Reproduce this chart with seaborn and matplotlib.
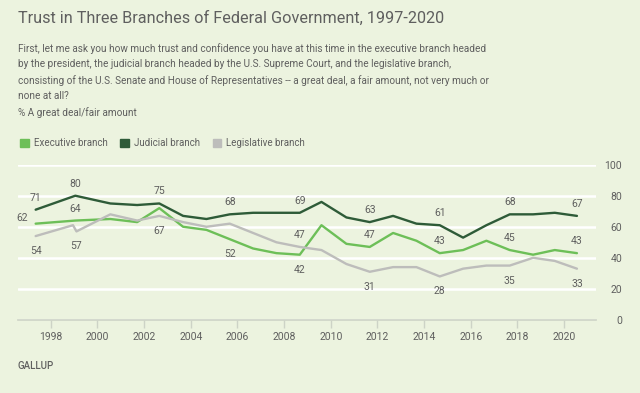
import matplotlib
matplotlib.use("Agg")
import matplotlib.pyplot as plt
import seaborn as sns
from matplotlib.patches import Patch

# poll dates (fractional years) and % great deal / fair amount
dates = [1997.35, 1999.05, 2000.55, 2001.7, 2002.65, 2003.67, 2004.67, 2005.67,
         2006.67, 2007.67, 2008.67, 2009.6, 2010.67, 2011.67, 2012.67, 2013.67,
         2014.67, 2015.67, 2016.67, 2017.67, 2018.67, 2019.6, 2020.55]
executive = [62, 64, 65, 63, 72, 60, 58, 52, 46, 43, 42, 61, 49, 47, 56, 51,
             43, 45, 51, 45, 42, 45, 43]
judicial = [71, 80, 75, 74, 75, 67, 65, 68, 69, 69, 69, 76, 66, 63, 67, 62,
            61, 53, 61, 68, 68, 69, 67]

leg_dates = [1997.35, 1998.95, 1999.1, 2000.55, 2001.7, 2002.65, 2003.67, 2004.67,
             2005.67, 2006.67, 2007.67, 2008.67, 2009.6, 2010.67, 2011.67, 2012.67,
             2013.67, 2014.67, 2015.67, 2016.67, 2017.67, 2018.67, 2019.6, 2020.55]
legislative = [54, 61, 57, 68, 64, 67, 63, 60, 62, 56, 50, 47, 45, 36, 31, 34,
               34, 28, 33, 35, 35, 40, 38, 33]

year_ticks = list(range(1998, 2021, 2))
value_ticks = [0, 20, 40, 60, 80, 100]

title = "Trust in Three Branches of Federal Government, 1997-2020"
question = ("First, let me ask you how much trust and confidence you have at this time in the executive branch headed\n"
            "by the president, the judicial branch headed by the U.S. Supreme Court, and the legislative branch,\n"
            "consisting of the U.S. Senate and House of Representatives -- a great deal, a fair amount, not very much or\n"
            "none at all?")

bg = "#ecf3df"
c_exec = "#6dbf58"
c_jud = "#2e5b38"
c_leg = "#bdbdbb"
txt = "#5f5f5f"

sns.set_theme(style="white")
plt.rcParams['font.family'] = ['Roboto', 'DejaVu Sans']

fig = plt.figure(figsize=(6.4, 3.93), dpi=100, facecolor=bg)
ax = fig.add_axes([0.028, 0.186, 0.903, 0.395], facecolor=bg)

series = [
    (dates, executive, c_exec, {0: 'left', 1: 'up', 7: 'down', 10: 'down', 13: 'up', 16: 'up', 19: 'up', 22: 'up'}),
    (dates, judicial, c_jud, {0: 'up', 1: 'up', 4: 'up', 7: 'up', 10: 'up', 13: 'up', 16: 'up', 19: 'up', 22: 'up'}),
    (leg_dates, legislative, c_leg, {0: 'down', 2: 'down', 5: 'down', 11: 'up', 14: 'down', 17: 'down', 20: 'down', 23: 'down'}),
]
offsets = {'up': (0, 12), 'down': (0, -15), 'left': (-14, 6)}

for xs, ys, col, labels in series:
    sns.lineplot(x=xs, y=ys, color=col, linewidth=1.7, ax=ax, zorder=3)
    for i, where in labels.items():
        ax.annotate(str(ys[i]), (xs[i], ys[i]), textcoords='offset pixels',
                    xytext=offsets[where], ha='center', va='center',
                    fontsize=7.5, color=txt, zorder=4)

ax.set_xlim(1996.59, 2021.36)
ax.set_ylim(0, 100)
ax.set_xticks(year_ticks)
ax.set_yticks(value_ticks)
ax.yaxis.grid(True, color='white', linewidth=1.8)
ax.set_axisbelow(True)
for s in ['left', 'right', 'top']:
    ax.spines[s].set_visible(False)
ax.spines['bottom'].set_color('#cdd3c6')
ax.spines['bottom'].set_linewidth(1.2)
ax.yaxis.tick_right()
ax.tick_params(axis='y', length=0, pad=19, labelsize=7.5, labelcolor=txt)
for lab in ax.get_yticklabels():
    lab.set_ha('right')
ax.tick_params(axis='x', length=5.5, width=1, color='#cdd3c6', pad=3,
               labelsize=7.5, labelcolor=txt, bottom=True)
ax.set_xlabel('')
ax.set_ylabel('')

fig.text(0.028, 1 - 18 / 393, title, fontsize=11.7, color=txt, va='center')
fig.text(0.028, 1 - 43 / 393, question, fontsize=7.2, color=txt, va='top', linespacing=1.65)
fig.text(0.028, 1 - 113 / 393, "% A great deal/fair amount", fontsize=7.2, color=txt, va='center')
fig.text(0.028, 1 - 366 / 393, "GALLUP", fontsize=7, color=txt, va='center', fontweight='medium')

handles = [Patch(color=c_exec), Patch(color=c_jud), Patch(color=c_leg)]
fig.legend(handles, ["Executive branch", "Judicial branch", "Legislative branch"],
           loc='center left', bbox_to_anchor=(0.018, 1 - 143 / 393), ncol=3,
           frameon=False, fontsize=7, labelcolor=txt, handlelength=0.9,
           handleheight=0.9, handletextpad=0.5, columnspacing=1.3)

fig.savefig('out.png', dpi=100, facecolor=bg)
